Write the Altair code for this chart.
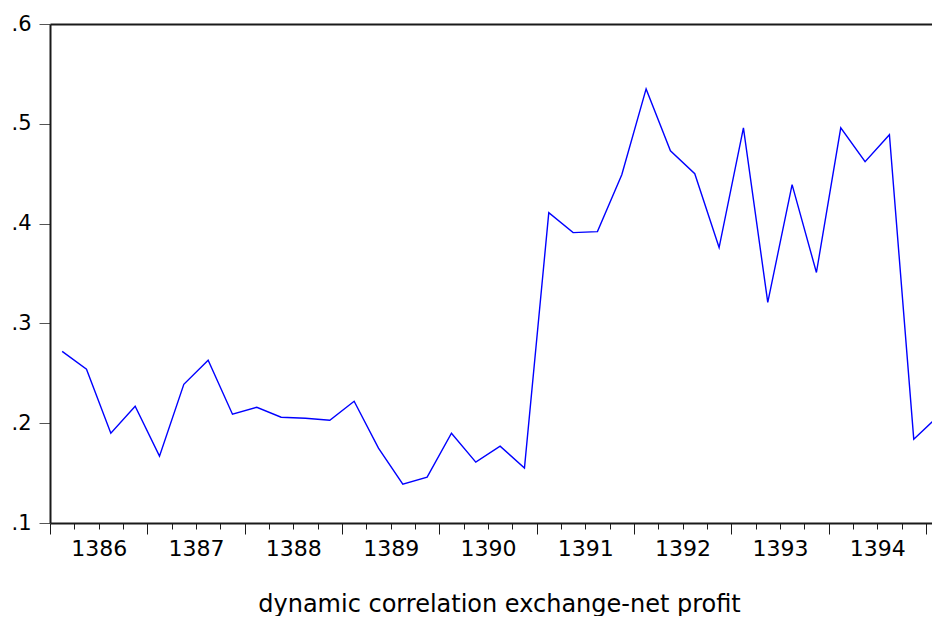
import altair as alt
import pandas as pd

# ---- data (quarterly, 1386Q1 .. 1395Q1) ----
years = list(range(1386, 1396))
quarters = ["Q1", "Q2", "Q3", "Q4"]
periods = [f"{y}{q}" for y in years for q in quarters][:37]
correlation = [
    0.272, 0.254, 0.190, 0.217, 0.167, 0.239, 0.263, 0.209, 0.216, 0.206,
    0.205, 0.203, 0.222, 0.175, 0.139, 0.146, 0.190, 0.161, 0.177, 0.155,
    0.411, 0.391, 0.392, 0.449, 0.535, 0.473, 0.450, 0.376, 0.496, 0.321,
    0.439, 0.351, 0.496, 0.462, 0.489, 0.184, 0.207,
]
y_ticks = [0.1, 0.2, 0.3, 0.4, 0.5, 0.6]
x_title = "dynamic correlation exchange-net profit"
first_year = years[0]

df = pd.DataFrame({"period": periods, "value": correlation})
df["t"] = [i + 0.5 for i in range(len(df))]  # centre of each quarter
quarter_bounds = list(range(0, len(df)))

FONT = "DejaVu Sans"
DARK = "#1a1a1a"

x_bottom = alt.X(
    "t:Q",
    scale=alt.Scale(domain=[0, 36.25], nice=False, zero=False),
    axis=alt.Axis(
        orient="bottom",
        values=quarter_bounds,
        tickSize={"condition": {"test": "datum.value % 4 === 0", "value": 11}, "value": 6},
        tickColor=DARK,
        tickWidth=1,
        labelExpr=f"datum.value % 4 === 2 ? '' + ({first_year} + floor(datum.value / 4)) : ''",
        labelOverlap=False,
        labelFont=FONT,
        labelFontSize=22,
        labelColor="black",
        labelPadding=9,
        labelAngle=0,
        labelFlush=False,
        domainColor=DARK,
        domainWidth=2,
        grid=False,
        title=x_title,
        titleFont=FONT,
        titleFontSize=24,
        titleFontWeight="normal",
        titleColor="black",
        titleX=449,
        titleY=88,
        titleAlign="center",
        titleBaseline="alphabetic",
    ),
)

y_enc = alt.Y(
    "value:Q",
    scale=alt.Scale(domain=[0.1, 0.6], nice=False, zero=False),
    axis=alt.Axis(
        values=y_ticks,
        labelExpr="substring(format(datum.value, '.1f'), 1)",
        tickSize=11,
        tickColor="#555555",
        tickWidth=1,
        labelPadding=8,
        labelFont=FONT,
        labelFontSize=21,
        labelColor="black",
        labelFlush=False,
        domainColor=DARK,
        domainWidth=2,
        grid=False,
        title=None,
    ),
)

line = alt.Chart(df).mark_line(color="#0000ff", strokeWidth=1.4).encode(
    x=x_bottom, y=y_enc
)

top_frame = alt.Chart(df).mark_line(opacity=0).encode(
    x=alt.X(
        "t:Q",
        axis=alt.Axis(
            orient="top", ticks=False, labels=False, domain=True,
            domainColor=DARK, domainWidth=2, grid=False, title=None,
        ),
    ),
    y=y_enc,
)

chart = (
    alt.layer(line, top_frame)
    .resolve_axis(x="independent")
    .properties(
        width=882,
        height=499,
        autosize=alt.AutoSizeParams(type="none"),
        padding={"left": 42, "top": 16, "right": 0, "bottom": 93},
    )
    .configure_view(stroke=None)
    .configure(background="white")
)

chart.save("out.html", embed_options={"renderer": "svg", "actions": False})
